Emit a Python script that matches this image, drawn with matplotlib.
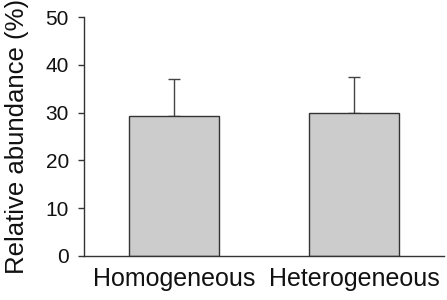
import matplotlib
matplotlib.use("Agg")
import matplotlib.pyplot as plt

categories = ["Homogeneous", "Heterogeneous"]
values = [29.35, 29.9]
errors_upper = [7.65, 7.5]
yticks = [0, 10, 20, 30, 40, 50]

plt.rcParams['font.family'] = ['Liberation Sans', 'DejaVu Sans']

fig = plt.figure(figsize=(4.47, 3.0), dpi=100)
ax = fig.add_axes([0.188, 0.147, 0.805, 0.796])

x = list(range(len(categories)))
ax.bar(x, values, width=0.5, color="#cccccc", edgecolor="#333333", linewidth=1.0, zorder=2)
ax.errorbar(x, values, yerr=[[0]*len(values), errors_upper], fmt="none",
            ecolor="#444444", elinewidth=1.0, capsize=4.3, capthick=1.0, zorder=1)

ax.set_xlim(-0.5, 1.5)
ax.set_ylim(0, 50)
ax.set_yticks(yticks)
ax.set_xticks(x)
ax.set_xticklabels(categories, fontsize=18, color="#111111")
ax.tick_params(axis='x', length=0, pad=8)
ax.tick_params(axis='y', length=4, width=1, labelsize=15, colors="#333333", labelcolor="#111111", pad=7)
ax.set_ylabel("Relative abundance (%)", fontsize=18.5, color="#111111", labelpad=12)

for s in ["top", "right"]:
    ax.spines[s].set_visible(False)
for s in ["left", "bottom"]:
    ax.spines[s].set_color("#333333")
    ax.spines[s].set_linewidth(1.0)

fig.savefig("out.png", dpi=100)
